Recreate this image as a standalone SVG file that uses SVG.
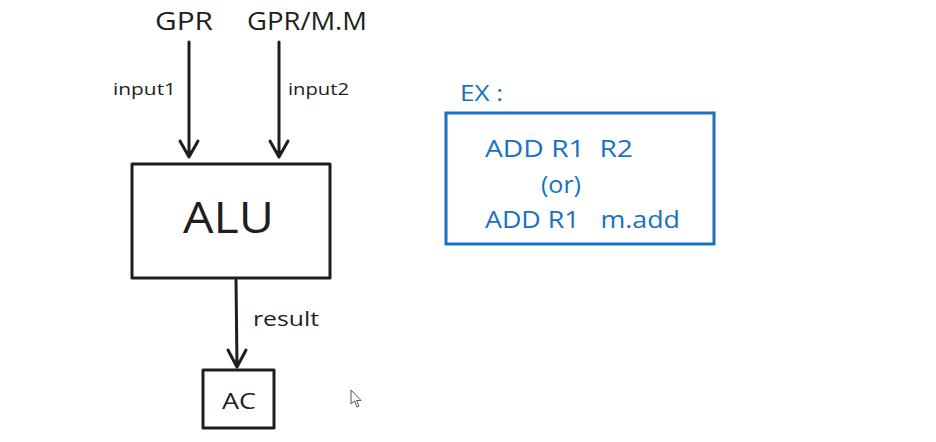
<svg xmlns="http://www.w3.org/2000/svg" width="936" height="442" viewBox="0 0 936 442">
<style>
.k{font-family:"Open Sans","Lato",sans-serif;fill:#1e1e1e}
.b{font-family:"Open Sans","Noto Sans",sans-serif;fill:#1971c2}
.box{fill:none;stroke:#1e1e1e;stroke-width:3;stroke-linejoin:round}
.ln{fill:none;stroke:#1e1e1e;stroke-width:3;stroke-linecap:round;stroke-linejoin:round}
</style>
<rect width="936" height="442" fill="#ffffff"/>
<g id="gpr"><text class="k" x="155" y="30" font-size="25" textLength="58" lengthAdjust="spacingAndGlyphs">GPR</text></g>
<g id="gprmm"><text class="k" x="247" y="30" font-size="25" textLength="120" lengthAdjust="spacingAndGlyphs">GPR/M.M</text></g>
<g id="alu">
<rect class="box" x="132" y="164" width="198" height="114"/>
<text class="k" x="183" y="233" font-size="43" textLength="91" lengthAdjust="spacingAndGlyphs">ALU</text>
</g>
<g id="ac">
<rect class="box" x="203" y="370" width="71" height="58"/>
<text class="k" x="222" y="409" font-size="21" textLength="34" lengthAdjust="spacingAndGlyphs">AC</text>
</g>
<g id="connectors">
<path class="ln" d="M189 42 L189 157 M180 141 L189 157 L198 141"/>
<text class="k" x="113" y="95" font-size="17" textLength="63" lengthAdjust="spacingAndGlyphs">input1</text>
<path class="ln" d="M279 42 L279 157 M270 141 L279 157 L288 141"/>
<text class="k" x="288" y="95" font-size="17" textLength="61" lengthAdjust="spacingAndGlyphs">input2</text>
<path class="ln" d="M236 280 L237 367 M228 350 L237 367 L246 350"/>
<text class="k" x="253" y="326" font-size="20" textLength="66" lengthAdjust="spacingAndGlyphs">result</text>
</g>
<g id="example">
<text class="b" x="460" y="101" font-size="21" textLength="43" lengthAdjust="spacingAndGlyphs" xml:space="preserve">EX :</text>
<rect x="446" y="113" width="268" height="131" fill="none" stroke="#1971c2" stroke-width="3"/>
<text class="b" x="485" y="157" font-size="23" textLength="148" lengthAdjust="spacingAndGlyphs" xml:space="preserve">ADD R1  R2</text>
<text class="b" x="541" y="193" font-size="23" textLength="40" lengthAdjust="spacingAndGlyphs">(or)</text>
<text class="b" x="485" y="228" font-size="23" textLength="195" lengthAdjust="spacingAndGlyphs" xml:space="preserve">ADD R1   m.add</text>
</g>
<path d="M351 390 L351 404 L354.5 401 L357 407 L359 406 L356.5 400.5 L361 400.5 Z" fill="#ffffff" stroke="#555" stroke-width="1"/>
</svg>
